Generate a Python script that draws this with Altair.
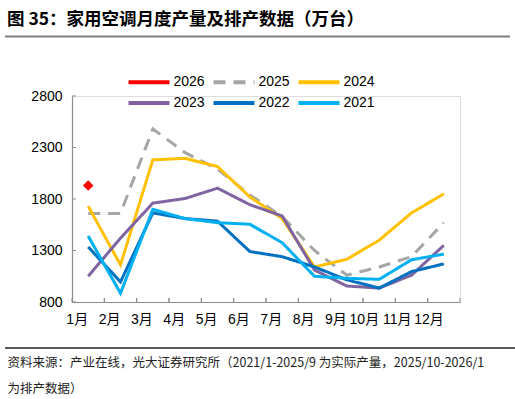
import altair as alt
import pandas as pd

months = ["1月", "2月", "3月", "4月", "5月", "6月", "7月", "8月", "9月", "10月", "11月", "12月"]
years = ["2026", "2025", "2024", "2023", "2022", "2021"]
colors = ["#FF0000", "#A6A6A6", "#FFC000", "#8064A2", "#0070C0", "#00B0F0"]

v2026 = [1930]
v2025 = [1660, 1660, 2480, 2250, 2090, 1840, 1630, 1300, 1060, 1140, 1240, 1570]
v2024 = [1730, 1160, 2180, 2195, 2115, 1820, 1610, 1140, 1215, 1400, 1665, 1850]
v2023 = [1050, 1420, 1760, 1805, 1905, 1745, 1635, 1110, 955, 935, 1060, 1350]
v2022 = [1335, 995, 1665, 1610, 1585, 1290, 1240, 1140, 1015, 935, 1095, 1170]
v2021 = [1440, 885, 1700, 1610, 1570, 1555, 1375, 1050, 1030, 1020, 1210, 1265]
yticks = [800, 1300, 1800, 2300, 2800]

title_text = "图 35：家用空调月度产量及排产数据（万台）"
footer_lines = [
    "资料来源：产业在线，光大证券研究所（2021/1-2025/9 为实际产量，2025/10-2026/1",
    "为排产数据）",
]

series = {"2025": v2025, "2024": v2024, "2023": v2023, "2022": v2022, "2021": v2021, "2026": v2026}
rows = []
for y, vals in series.items():
    for m, v in zip(months, vals):
        rows.append({"year": y, "month": m, "value": v})
df = pd.DataFrame(rows)
df_pt = pd.DataFrame({"year": ["2026"], "month": [months[0]], "value": v2026})
df_m = pd.DataFrame({"month": months})
df_y = pd.DataFrame({"tick": yticks})

W, H = 388, 206
LF = "Arial, Liberation Sans, Noto Sans CJK SC"

xscale = alt.Scale(type="band", domain=months, paddingInner=0, paddingOuter=0)
yscale = alt.Scale(domain=[800, 2800], nice=False, zero=False)

xax = alt.Axis(
    labelAngle=0, labelFontSize=14, labelFont=LF, labelColor="#000", labelPadding=17,
    tickSize=0, domainColor="#8C8C8C", domainWidth=1.2, grid=False,
    title=footer_lines, titleFont="Noto Sans CJK SC", titleFontSize=12.5, titleFontWeight="normal",
    titleColor="#222", titleAnchor="start", titleAlign="left", titleBaseline="middle",
    titleX=-65, titleY=60, titleLineHeight=26,
)
yax = alt.Axis(
    values=yticks, format="d", labelFontSize=14, labelFont=LF, labelColor="#000", labelPadding=10,
    tickSize=0, domainColor="#8C8C8C", domainWidth=1.2, grid=False, title=None,
)

legend = alt.Legend(
    orient="none", legendX=64.5, legendY=-26.5, direction="horizontal", columns=3, title=None,
    symbolType="M-2,0H2", symbolSize=420, symbolStrokeWidth=4, labelFontSize=14, labelFont=LF,
    labelColor="#000", labelOffset=12, columnPadding=0, rowPadding=0,
)

lines = alt.Chart(df).mark_line(strokeWidth=3).encode(
    x=alt.X("month:N", scale=xscale, axis=xax, bandPosition=0.5, sort=months),
    y=alt.Y("value:Q", scale=yscale, axis=yax),
    color=alt.Color("year:N", scale=alt.Scale(domain=years, range=colors), legend=legend, sort=years),
    strokeDash=alt.StrokeDash("year:N", scale=alt.Scale(domain=years, range=[[1, 0], [12, 8], [1, 0], [1, 0], [1, 0], [1, 0]]), legend=legend, sort=years),
    detail="year:N",
)

point = alt.Chart(df_pt).mark_point(shape="diamond", filled=True, size=110, color="#FF0000", opacity=1).encode(
    x=alt.X("month:N", scale=xscale, bandPosition=0.5, sort=months),
    y=alt.Y("value:Q", scale=yscale),
)

xt0 = alt.Chart(df_m).mark_rule(color="#8C8C8C", strokeWidth=1).encode(
    x=alt.X("month:N", scale=xscale, bandPosition=0, sort=months),
    y=alt.value(H - 4), y2=alt.value(H),
)
xt1 = alt.Chart(df_m).mark_rule(color="#8C8C8C", strokeWidth=1).encode(
    x=alt.X("month:N", scale=xscale, bandPosition=1, sort=months),
    y=alt.value(H - 4), y2=alt.value(H),
)
yt = alt.Chart(df_y).mark_rule(color="#8C8C8C", strokeWidth=1).encode(
    y=alt.Y("tick:Q", scale=yscale), x=alt.value(0), x2=alt.value(4),
)

top_rule = alt.Chart(df_m.head(1)).mark_rule(color="#7F7F7F", strokeWidth=2).encode(
    x=alt.value(-67), x2=alt.value(438), y=alt.value(-59.5)
)
bot_rule = alt.Chart(df_m.head(1)).mark_rule(color="#222222", strokeWidth=1.5).encode(
    x=alt.value(-67), x2=alt.value(443), y=alt.value(252)
)

chart = alt.layer(top_rule, bot_rule, xt0, xt1, yt, lines, point).properties(
    width=W, height=H,
    title=alt.TitleParams(
        title_text, anchor="start", frame="group", dx=-65, dy=15, offset=22,
        font="Noto Sans CJK SC", fontSize=17.5, fontWeight="bold", color="#000",
    ),
    autosize=alt.AutoSizeParams(type="none"),
    padding={"left": 72, "top": 96, "right": 55, "bottom": 97},
).configure_view(stroke=None).configure(background="white")

chart.save("out.html", embed_options={"renderer": "svg", "actions": False})
